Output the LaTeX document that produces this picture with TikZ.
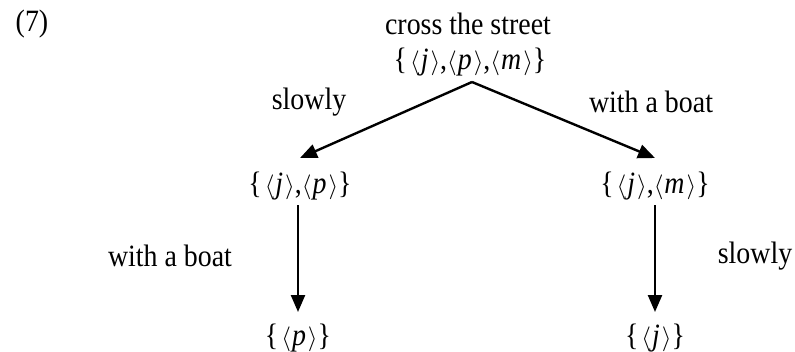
\documentclass[tikz,border=0pt]{standalone}
\usepackage{fontspec}
\setmainfont{Liberation Serif}[FakeStretch=0.9]
\usetikzlibrary{arrows.meta}
\newcommand\ang[1]{$\langle$\kern1pt\textit{#1}\kern2pt$\rangle$}
\newcommand\lb{\{\kern3pt}
\tikzset{
  lbl/.style={inner sep=0pt, font=\fontsize{31}{36}\selectfont},
  edge/.style={line width=2.4pt, -{Triangle[length=17pt,width=14pt]}},
}
\begin{document}
\begin{tikzpicture}[x=1pt,y=1pt]
\useasboundingbox (0,0) rectangle (795,-351);
\node[lbl] (num) at (32,-24) {(7)};
\node[lbl] (title) at (468,-24) {cross the street};
\node[lbl] (top) at (470,-62) {\lb\ang{j},\ang{p},\ang{m}\}};
\coordinate (apex) at (472,-82);
\node[lbl] (l1) at (300,-186) {\lb\ang{j},\ang{p}\}};
\node[lbl] (r1) at (655,-186) {\lb\ang{j},\ang{m}\}};
\node[lbl] (l2) at (298,-338) {\lb\ang{p}\}};
\node[lbl] (r2) at (655,-338) {\lb\ang{j}\}};
\node[lbl] (sl1) at (309,-102) {slowly};
\node[lbl] (wb1) at (651,-102) {with a boat};
\node[lbl] (wb2) at (170,-256) {with a boat};
\node[lbl] (sl2) at (755,-256) {slowly};
\coordinate (l1t) at (300,-158);
\coordinate (r1t) at (655,-158);
\coordinate (l1b) at (298,-205);
\coordinate (r1b) at (655,-205);
\coordinate (l2t) at (298,-312);
\coordinate (r2t) at (655,-312);
\draw[edge] (apex) -- (l1t);
\draw[edge] (apex) -- (r1t);
\draw[edge] (l1b) -- (l2t);
\draw[edge] (r1b) -- (r2t);
\end{tikzpicture}
\end{document}
